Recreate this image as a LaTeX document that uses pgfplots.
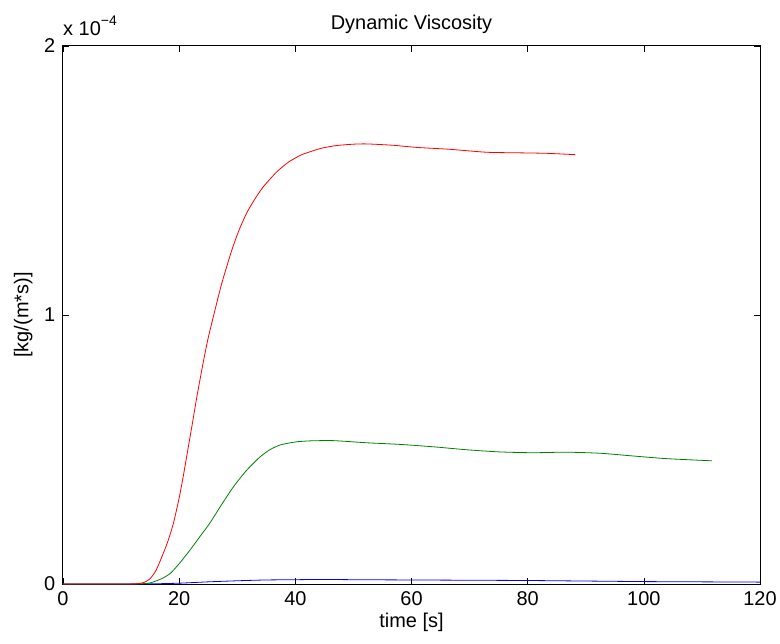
\documentclass[border=0pt]{standalone}
\usepackage{fontspec}
\setmainfont{Liberation Sans}
\usepackage{pgfplots}
\pgfplotsset{compat=1.18}

\definecolor{mred}{RGB}{255,0,0}
\definecolor{mgreen}{RGB}{0,128,0}
\definecolor{mblue}{RGB}{0,0,255}

\begin{document}
\fontsize{20}{24}\selectfont
\begin{tikzpicture}
\begin{axis}[
  name=ax,
  scale only axis,
  width=697bp, height=538bp,
  xmin=0, xmax=120, ymin=0, ymax=2e-4,
  xtick={0,20,...,120},
  ytick={0,1e-4,2e-4},
  scaled y ticks=base 10:4,
  ytick scale label code/.code={},
  tick align=inside,
  major tick length=6bp,
  axis line style={line width=1bp},
  tick style={black, line width=0.6bp},
  /pgf/number format/assume math mode=true,
  tick label style={font=\fontsize{20}{24}\selectfont},
  xticklabel style={yshift=-1bp},
  yticklabel style={xshift=-1bp},
  title={Dynamic Viscosity},
  title style={font=\fontsize{20}{24}\selectfont, yshift=0bp},
  xlabel={time [s]},
  ylabel={[kg/(m*s)]},
  label style={font=\fontsize{20}{24}\selectfont},
  xlabel style={yshift=6bp},
  ylabel style={yshift=-2bp},
  every axis plot/.append style={line width=0.8bp, no markers},
  clip=true,
]
% reference line (stays at zero)
\addplot[black] coordinates {
  (0,0) (40,0) (80,0) (120,0)
};
% blue species
\addplot[mblue, smooth, tension=0.4] coordinates {
  (0,0) (10,0) (15,0.0005e-4) (20,0.003e-4) (25,0.008e-4) (30,0.012e-4) (35,0.015e-4)
  (40,0.016e-4) (45,0.017e-4) (50,0.016e-4) (60,0.015e-4) (70,0.014e-4) (80,0.013e-4)
  (90,0.011e-4) (100,0.009e-4) (110,0.008e-4) (120,0.007e-4)
};
% green species
\addplot[mgreen, smooth, tension=0.4] coordinates {
  (0,0) (10,0) (13,0.0005e-4) (15,0.004e-4) (17,0.02e-4) (18.5,0.04e-4) (20.1,0.078e-4)
  (22,0.13e-4) (23.7,0.18e-4) (25.3,0.227e-4) (27.3,0.295e-4) (29.3,0.36e-4)
  (31.5,0.42e-4) (33.9,0.472e-4) (35.6,0.499e-4) (37.4,0.517e-4) (40,0.528e-4)
  (42.5,0.532e-4) (46.5,0.533e-4) (52.3,0.525e-4) (58,0.519e-4) (63.8,0.51e-4)
  (69.5,0.499e-4) (75.2,0.491e-4) (80.9,0.488e-4) (86.7,0.49e-4) (92.5,0.486e-4)
  (98.1,0.476e-4) (103.9,0.466e-4) (111.7,0.458e-4)
};
% red species
\addplot[mred, smooth, tension=0.4] coordinates {
  (0,0) (10,0) (12,0.0005e-4) (13,0.002e-4) (14,0.006e-4) (15,0.02e-4) (16,0.05e-4)
  (17,0.10e-4) (18,0.155e-4) (19,0.225e-4) (20,0.32e-4) (20.7,0.40e-4)
  (21.5,0.50e-4) (22.3,0.60e-4) (23.0,0.69e-4) (24.15,0.825e-4) (25.0,0.915e-4)
  (25.9,0.995e-4) (27.3,1.115e-4) (29.05,1.24e-4) (30.3,1.315e-4) (31.6,1.378e-4)
  (33,1.43e-4) (34.5,1.477e-4) (36.8,1.532e-4) (38.8,1.568e-4) (40.8,1.593e-4)
  (42,1.603e-4) (44.5,1.620e-4) (47.1,1.630e-4) (50,1.635e-4) (52.3,1.636e-4)
  (56.8,1.631e-4) (60.9,1.623e-4) (66.6,1.616e-4) (72.9,1.605e-4) (78.1,1.603e-4)
  (83.3,1.601e-4) (88.2,1.596e-4)
};
\end{axis}
% exponent label over the y axis
\node[anchor=base west, inner sep=0pt] at ([yshift=10bp]ax.north west)
  {x 10\raisebox{0.55em}{\fontsize{14}{16}\selectfont −4}};
\pgfresetboundingbox
\path (ax.south west) ++(-63bp,-60bp) rectangle ++(780bp,644bp);
\end{tikzpicture}
\end{document}
